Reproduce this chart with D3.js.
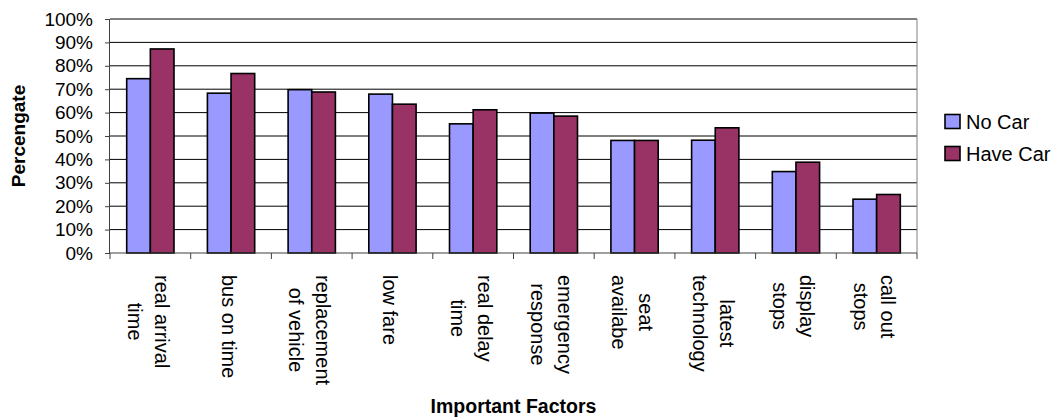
<!DOCTYPE html>
<html>
<head>
<meta charset="utf-8">
<script src="https://cdn.jsdelivr.net/npm/d3@7"></script>
<style>
  html, body { margin: 0; padding: 0; background: #fff; }
  svg { display: block; font-family: "Liberation Sans", Arial, sans-serif; }
</style>
</head>
<body>
<svg id="chart" width="1055" height="418"></svg>
<script>
// Survey data: share of respondents rating each factor as important
const categories = [
  "real arrival\ntime", "bus on time", "replacement\nof vehicle", "low fare",
  "real delay\ntime", "emergency\nresponse", "seat\navailabe", "latest\ntechnology",
  "display\nstops", "call out\nstops"
];
const seriesNames = ["No Car", "Have Car"];
const noCar   = [74.5, 68.3, 69.8, 67.9, 55.2, 59.8, 48.1, 48.2, 34.8, 23.0];
const haveCar = [87.2, 76.7, 68.8, 63.6, 61.2, 58.5, 48.1, 53.5, 38.8, 25.0];
const seriesColors = ["#9999FF", "#993366"];
const yTicks = [0, 10, 20, 30, 40, 50, 60, 70, 80, 90, 100];

const svg = d3.select("#chart");
const plot = { left: 110, right: 917, top: 19, bottom: 253 };

const rows = categories.map((c, i) => ({ cat: c, values: [noCar[i], haveCar[i]] }));

const x0 = d3.scaleBand()
  .domain(categories)
  .range([plot.left, plot.right])
  .paddingInner(0.414)
  .paddingOuter(0.207);
const x1 = d3.scaleBand()
  .domain(seriesNames)
  .range([0, x0.bandwidth()]);
const y = d3.scaleLinear().domain([0, 100]).range([plot.bottom, plot.top]);

// Horizontal gridlines
svg.append("g")
  .selectAll("line")
  .data(yTicks.filter(d => d > 0))
  .join("line")
  .attr("x1", plot.left).attr("x2", plot.right)
  .attr("y1", d => y(d)).attr("y2", d => y(d))
  .attr("stroke", "#000").attr("stroke-width", 1);

// Right border of plot area
svg.append("line")
  .attr("x1", plot.right).attr("x2", plot.right)
  .attr("y1", y(100)).attr("y2", y(0))
  .attr("stroke", "#808080").attr("stroke-width", 1);

// Bars
const groups = svg.append("g")
  .selectAll("g")
  .data(rows)
  .join("g")
  .attr("transform", d => `translate(${x0(d.cat)},0)`);

groups.selectAll("rect")
  .data(d => d.values.map((v, j) => ({ key: seriesNames[j], v, j })))
  .join("rect")
  .attr("x", d => x1(d.key))
  .attr("width", x1.bandwidth())
  .attr("y", d => y(d.v))
  .attr("height", d => y(0) - y(d.v))
  .attr("fill", d => seriesColors[d.j])
  .attr("stroke", "#000")
  .attr("stroke-width", 1.6);

// Y axis
const yAxis = svg.append("g")
  .attr("transform", `translate(${plot.left},0)`)
  .call(d3.axisLeft(y).tickValues(yTicks).tickFormat(d => d + "%").tickSize(5).tickPadding(12));
yAxis.select(".domain").attr("stroke", "#404040").attr("d", `M-0.5,${y(100)}V${y(0)}`);
yAxis.selectAll(".tick line").attr("stroke", "#404040");
yAxis.selectAll(".tick text")
  .attr("font-size", 19)
  .attr("font-family", "Liberation Sans, Arial, sans-serif")
  .attr("fill", "#000");

// X axis line and category boundary ticks
svg.append("line")
  .attr("x1", plot.left).attr("x2", plot.right)
  .attr("y1", y(0)).attr("y2", y(0))
  .attr("stroke", "#404040").attr("stroke-width", 1);
const step = x0.step();
svg.append("g")
  .selectAll("line")
  .data(d3.range(categories.length + 1))
  .join("line")
  .attr("x1", i => x0.range()[0] + i * step)
  .attr("x2", i => x0.range()[0] + i * step)
  .attr("y1", y(0)).attr("y2", y(0) + 6)
  .attr("stroke", "#404040").attr("stroke-width", 1);

// Rotated category labels (read top to bottom, lines centred)
const labelTop = 275;
const lineGap = 27;
const catLabels = svg.append("g")
  .selectAll("g")
  .data(categories)
  .join("g")
  .attr("transform", d => `translate(${x0(d) + x0.bandwidth() / 2},${labelTop}) rotate(90)`);

catLabels.each(function (d) {
  const g = d3.select(this);
  const lines = d.split("\n");
  const n = lines.length;
  const texts = lines.map((ln, i) =>
    g.append("text")
      .attr("font-size", 20)
      .attr("fill", "#000")
      .attr("text-anchor", "middle")
      .attr("y", 9 + (i - (n - 1) / 2) * lineGap)
      .text(ln)
  );
  const maxLen = d3.max(texts, t => t.node().getComputedTextLength());
  texts.forEach(t => t.attr("x", maxLen / 2));
});

// Axis titles
svg.append("text")
  .attr("transform", `translate(25,${(plot.top + plot.bottom) / 2}) rotate(-90)`)
  .attr("text-anchor", "middle")
  .attr("font-size", 19)
  .attr("font-weight", "bold")
  .text("Percengate");

svg.append("text")
  .attr("x", (plot.left + plot.right) / 2)
  .attr("y", 413)
  .attr("text-anchor", "middle")
  .attr("font-size", 19.5)
  .attr("font-weight", "bold")
  .text("Important Factors");

// Legend
const legend = svg.append("g")
  .selectAll("g")
  .data(seriesNames)
  .join("g")
  .attr("transform", (d, i) => `translate(945,${114.5 + i * 32})`);
legend.append("rect")
  .attr("width", 15).attr("height", 14)
  .attr("fill", (d, i) => seriesColors[i])
  .attr("stroke", "#000").attr("stroke-width", 1.6);
legend.append("text")
  .attr("x", 21).attr("y", 7)
  .attr("dy", "0.35em")
  .attr("font-size", 20)
  .attr("fill", "#000")
  .text(d => d);
</script>
</body>
</html>
